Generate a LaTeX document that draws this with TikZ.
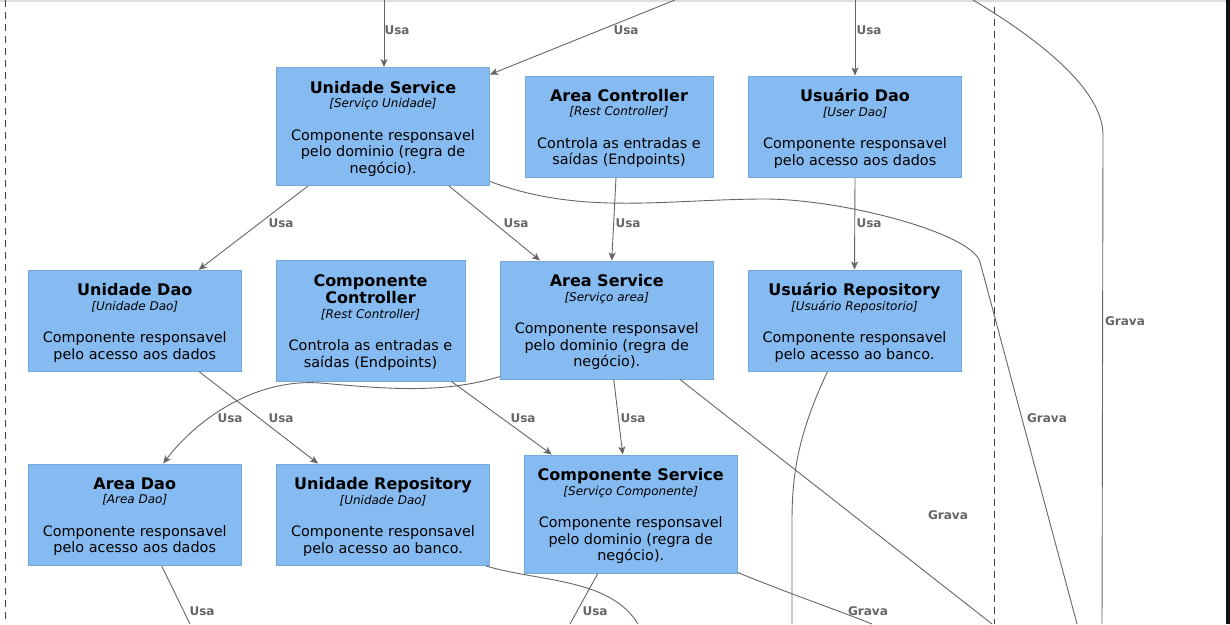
\documentclass[tikz,border=0pt]{standalone}
\usepackage{fontspec}
\setmainfont{DejaVu Sans}
\usetikzlibrary{arrows.meta,calc}
\definecolor{boxfill}{HTML}{85BBF0}
\definecolor{boxline}{HTML}{78A8D8}
\definecolor{linec}{HTML}{666666}
\definecolor{lblc}{HTML}{666666}
\tikzset{
 comp/.style={draw=boxline, fill=boxfill, line width=1pt, inner sep=0pt, rectangle},
 rel/.style={draw=linec, line width=0.9pt},
 arr/.style={rel, -{Stealth[length=8pt,width=7pt,inset=2pt]}},
 lbl/.style={text=lblc, font=\fontsize{12}{14}\selectfont\bfseries, inner sep=0pt},
 bound/.style={draw=black!75, line width=1pt, dash pattern=on 7pt off 5pt},
}
\newcommand{\ctext}[4]{%
\begin{minipage}{#1pt}\centering
\vspace*{4pt}
{\fontsize{16}{17}\selectfont\bfseries #2\par}
{\fontsize{12}{14.5}\selectfont\itshape #3\par}
\vspace{16pt}
{\fontsize{14.4}{16.5}\selectfont #4\par}
\end{minipage}}
\begin{document}
\begin{tikzpicture}[x=1pt,y=-1pt]
\useasboundingbox (0,0) rectangle (1230,624);
\fill[white] (0,0) rectangle (1230,624);
\fill[black!13] (0,0) rectangle (1226,1.5);
\fill[black!93] (1226,0) rectangle (1230,624);
% boundaries
\draw[bound] (5,0) -- (5,624);
\draw[bound] (994,7) -- (994,624);
% boxes
\node[comp, minimum width=213pt, minimum height=118pt] (us) at (383,126.5) {\ctext{207}{Unidade Service}{[Serviço Unidade]}{Componente responsavel\\pelo dominio (regra de\\negócio).}};
\node[comp, minimum width=188pt, minimum height=101pt] (ac) at (619,126.5) {\ctext{184}{Area Controller}{[Rest Controller]}{Controla as entradas e\\saídas (Endpoints)}};
\node[comp, minimum width=213pt, minimum height=101pt] (ud) at (855,126.5) {\ctext{207}{Usuário Dao}{[User Dao]}{Componente responsavel\\pelo acesso aos dados}};
\node[comp, minimum width=213pt, minimum height=101pt] (udao) at (134.75,320.75) {\ctext{207}{Unidade Dao}{[Unidade Dao]}{Componente responsavel\\pelo acesso aos dados}};
\node[comp, minimum width=189pt, minimum height=121pt] (cc) at (370.5,320.5) {\ctext{185}{Componente\\Controller}{[Rest Controller]}{Controla as entradas e\\saídas (Endpoints)}};
\node[comp, minimum width=212.5pt, minimum height=118pt] (as) at (606.75,320) {\ctext{207}{Area Service}{[Serviço area]}{Componente responsavel\\pelo dominio (regra de\\negócio).}};
\node[comp, minimum width=213pt, minimum height=101pt] (ur) at (854.5,320.5) {\ctext{207}{Usuário Repository}{[Usuário Repositorio]}{Componente responsavel\\pelo acesso ao banco.}};
\node[comp, minimum width=213pt, minimum height=101.5pt] (ad) at (134.75,514.75) {\ctext{207}{Area Dao}{[Area Dao]}{Componente responsavel\\pelo acesso aos dados}};
\node[comp, minimum width=213pt, minimum height=101.5pt] (urp) at (383,514.75) {\ctext{207}{Unidade Repository}{[Unidade Dao]}{Componente responsavel\\pelo acesso ao banco.}};
\node[comp, minimum width=213pt, minimum height=118pt] (cs) at (630.75,514) {\ctext{207}{Componente Service}{[Serviço Componente]}{Componente responsavel\\pelo dominio (regra de\\negócio).}};
% free ends
\coordinate (topA) at (384,0);
\coordinate (topB) at (675,0);
\coordinate (topC) at (855,0);
\coordinate (topD) at (973,0);
\coordinate (botD) at (1102,624);
\coordinate (botM) at (992,624);
\coordinate (botN) at (792,624);
\coordinate (botO) at (872,624);
\coordinate (botP) at (570,624);
\coordinate (botQ) at (638,624);
\coordinate (botR) at (190,624);
\coordinate (botS) at (1077,624);
% connectors
\draw[arr] (topA) -- ($(us.north)+(1,0)$);
\draw[arr] (topB) -- ($(us.north east)+(0,7.5)$);
\draw[arr] (topC) -- (ud.north);
\draw[rel] (topD) .. controls (1040,40) and (1103,90) .. (1103,135) -- (botD);
\draw[arr] ($(us.south west)+(32,0)$) -- ($(udao.north)+(64,0)$);
\draw[arr] ($(us.south west)+(173,0)$) -- ($(as.north west)+(40,0)$);
\draw[arr] ($(ac.south)+(-3,0)$) -- ($(as.north)+(5,0)$);
\draw[arr] (ud.south) -- (ur.north);
\draw[arr] ($(udao.south)+(64.5,0)$) -- ($(urp.north)+(-65,0)$);
\draw[arr] ($(as.south west)+(0,-3)$) .. controls (440,395) and (380,388) .. (320,383) .. controls (250,378) and (192,425) .. ($(ad.north)+(28.5,0)$);
\draw[arr] ($(cc.south)+(81,0)$) -- ($(cs.north west)+(28,0)$);
\draw[arr] ($(as.south)+(7,0)$) -- ($(cs.north)+(-8,0)$);
\draw[rel] ($(as.south west)+(180,0)$) -- (botM);
\draw[rel] ($(ur.south west)+(80,0)$) .. controls (800,430) and (792,470) .. (792,520) -- (botN);
\draw[rel] ($(cs.south east)+(0,-1)$) .. controls (790,594) and (840,611) .. (botO);
\draw[rel] ($(cs.south)+(-33,0)$) -- (botP);
\draw[rel] ($(urp.south east)+(-4,0)$) .. controls (540,582) and (610,578) .. (botQ);
\draw[rel] ($(ad.south)+(27,0)$) -- (botR);
\draw[rel] ($(us.east)+(0,55)$) .. controls (580,215) and (660,200) .. (760,199) .. controls (840,198) and (972,233) .. (980,262) -- (botS);
% labels
\node[lbl] (la) at (397,30) {Usa};
\node[lbl] (lb) at (626,30) {Usa};
\node[lbl] (lc) at (869,30) {Usa};
\node[lbl] (le) at (281,223) {Usa};
\node[lbl] (lf) at (516,223) {Usa};
\node[lbl] (lg) at (628,223) {Usa};
\node[lbl] (lh) at (869,223) {Usa};
\node[lbl] (li) at (281,418) {Usa};
\node[lbl] (lj) at (230,418) {Usa};
\node[lbl] (lk) at (523,418) {Usa};
\node[lbl] (ll) at (633,418) {Usa};
\node[lbl] (lr) at (202,611) {Usa};
\node[lbl] (lp) at (595,611) {Usa};
\node[lbl] (g1) at (1125,321) {Grava};
\node[lbl] (g2) at (1047,418) {Grava};
\node[lbl] (g3) at (948,515) {Grava};
\node[lbl] (g4) at (868,611) {Grava};
\end{tikzpicture}
\end{document}
